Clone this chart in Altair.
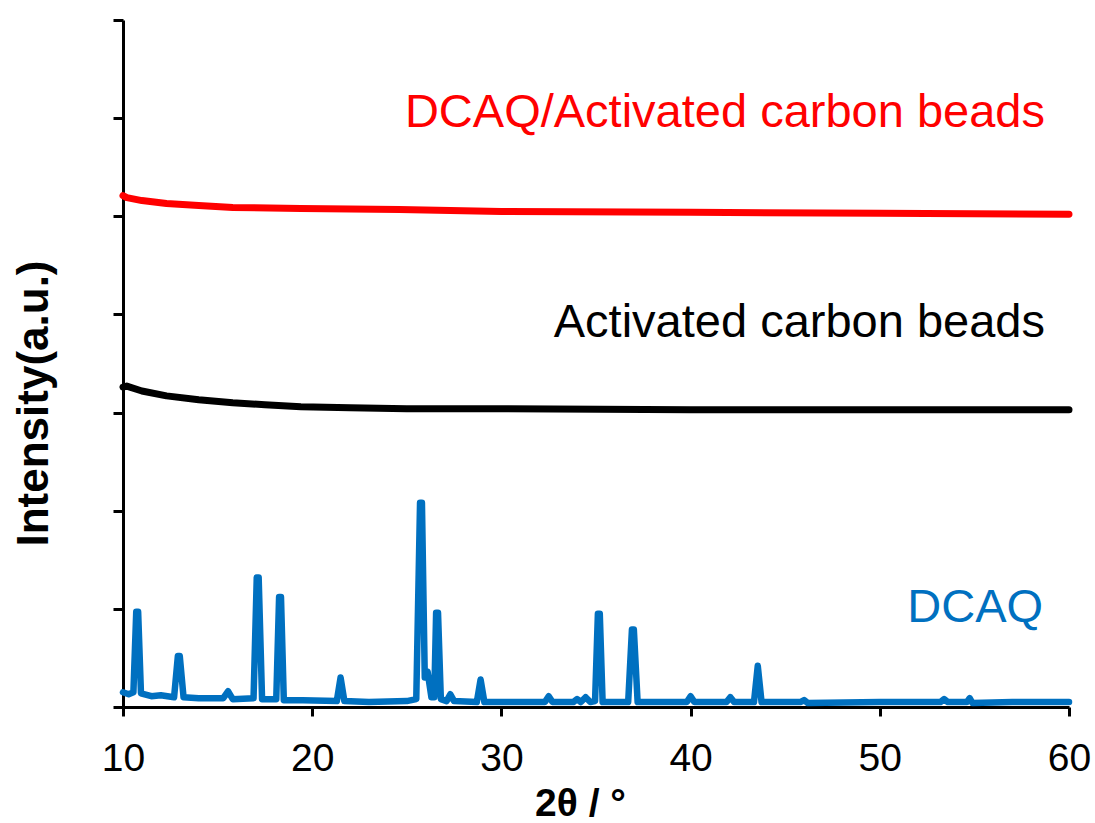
import altair as alt
import pandas as pd

# ---- data ----
dcaq_x = [10.0, 10.3, 10.55, 10.7, 10.8, 10.95, 11.5, 12.0, 12.7, 12.9, 13.0, 13.2, 14.0, 15.3,
          15.55, 15.8, 16.9, 17.07, 17.17, 17.35, 18.1, 18.25, 18.35, 18.5, 19.5, 21.3, 21.5,
          21.7, 23.0, 25.0, 25.5, 25.7, 25.8, 25.95, 26.1, 26.3, 26.45, 26.55, 26.65, 26.8,
          27.1, 27.3, 27.5, 28.7, 28.9, 29.1, 31.0, 32.3, 32.5, 32.7, 33.8, 34.0, 34.2, 34.45,
          34.7, 34.95, 35.1, 35.2, 35.35, 36.7, 36.9, 37.0, 37.2, 39.8, 40.0, 40.2, 41.9, 42.1,
          42.3, 43.35, 43.55, 43.75, 45.8, 46.0, 46.2, 50.0, 53.2, 53.4, 53.6, 54.6, 54.75,
          54.9, 57.0, 60.0]
dcaq_y = [0.15, 0.13, 0.15, 0.97, 0.97, 0.14, 0.11, 0.12, 0.10, 0.52, 0.52, 0.10, 0.09, 0.09,
          0.16, 0.08, 0.09, 1.32, 1.32, 0.08, 0.08, 1.12, 1.12, 0.07, 0.07, 0.06, 0.30,
          0.06, 0.05, 0.06, 0.08, 2.08, 2.08, 0.30, 0.36, 0.10, 0.10, 0.96, 0.96, 0.08,
          0.06, 0.13, 0.06, 0.05, 0.28, 0.05, 0.05, 0.05, 0.11, 0.05, 0.05, 0.08, 0.05, 0.10,
          0.05, 0.06, 0.95, 0.95, 0.05, 0.05, 0.79, 0.79, 0.05, 0.05, 0.11, 0.05, 0.05, 0.10,
          0.05, 0.05, 0.42, 0.05, 0.05, 0.07, 0.04, 0.05, 0.05, 0.08, 0.05, 0.05, 0.09,
          0.04, 0.05, 0.05]

acb_x = [10.0, 10.2, 11.0, 12.3, 14.0, 15.8, 17.5, 19.4, 22.0, 25.0, 30.0, 40.0, 50.0, 60.0]
acb_y = [3.26, 3.27, 3.22, 3.17, 3.13, 3.10, 3.08, 3.06, 3.05, 3.04, 3.04, 3.03, 3.03, 3.03]

dcaq_acb_x = [10.0, 10.2, 11.0, 12.3, 14.0, 15.8, 19.4, 24.6, 30.0, 40.0, 50.0, 60.0]
dcaq_acb_y = [5.21, 5.19, 5.16, 5.13, 5.11, 5.09, 5.08, 5.07, 5.05, 5.04, 5.03, 5.02]

label_text = ["DCAQ/Activated carbon beads", "Activated carbon beads", "DCAQ"]
label_x = [58.73, 58.73, 58.63]
label_y = [5.91, 3.77, 0.87]
label_color = ["#FF0000", "#000000", "#0070C0"]

x_ticks = [10, 20, 30, 40, 50, 60]
y_ticks = [0, 1, 2, 3, 4, 5, 6, 7]

FONT = "Liberation Sans"

xscale = alt.Scale(domain=[10, 60], nice=False, zero=False)
yscale = alt.Scale(domain=[0, 7], nice=False, zero=False)

xaxis = alt.Axis(values=x_ticks, format="d", grid=False, labelFlush=False,
                 labelFont=FONT, labelFontSize=39, labelColor="black", labelPadding=23,
                 tickSize=9, tickWidth=3, tickColor="black",
                 domainColor="black", domainWidth=3,
                 title="2θ / °", titleFont=FONT, titleFontSize=39, titleFontWeight="bold",
                 titleColor="black", titleX=457, titleY=108, titleAlign="center",
                 titleBaseline="alphabetic")
yaxis = alt.Axis(values=y_ticks, labels=False, grid=False,
                 tickSize=10, tickWidth=3, tickColor="black",
                 domainColor="black", domainWidth=3,
                 title="Intensity(a.u.)", titleFont=FONT, titleFontSize=44,
                 titleFontWeight="bold", titleColor="black", titleAngle=270,
                 titleX=-76, titleY=383, titleAlign="center", titleBaseline="alphabetic")


def line(xs, ys, color, width, with_axes=False):
    df = pd.DataFrame({"x": xs, "y": ys})
    if with_axes:
        enc_x = alt.X("x:Q", scale=xscale, axis=xaxis)
        enc_y = alt.Y("y:Q", scale=yscale, axis=yaxis)
    else:
        enc_x = alt.X("x:Q", scale=xscale)
        enc_y = alt.Y("y:Q", scale=yscale)
    return alt.Chart(df).mark_line(color=color, strokeWidth=width, strokeJoin="round",
                                   strokeCap="round").encode(x=enc_x, y=enc_y)


blue = line(dcaq_x, dcaq_y, "#0070C0", 6.5, with_axes=True)
black = line(acb_x, acb_y, "#000000", 7)
red = line(dcaq_acb_x, dcaq_acb_y, "#FF0000", 7)

labels_df = pd.DataFrame({"t": label_text, "x": label_x, "y": label_y, "c": label_color})
labels = alt.Chart(labels_df).mark_text(font=FONT, fontSize=47, align="right",
                                        baseline="alphabetic").encode(
    x=alt.X("x:Q", scale=xscale),
    y=alt.Y("y:Q", scale=yscale),
    text="t:N",
    color=alt.Color("c:N", scale=None),
)

chart = alt.layer(black, red, blue, labels).properties(
    width=946, height=687,
    autosize="none",
    padding={"left": 123, "top": 20, "right": 26, "bottom": 116},
    background="white",
).configure_view(stroke=None)

chart.save("out.html", embed_options={"renderer": "svg", "actions": False})
